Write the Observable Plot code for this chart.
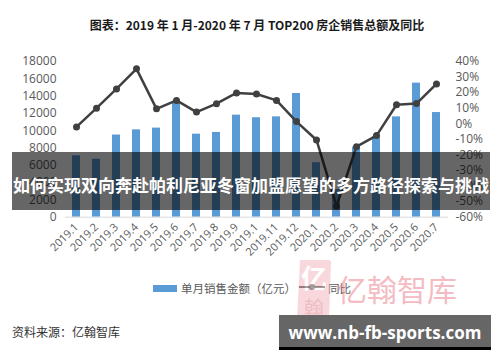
<!DOCTYPE html>
<html>
<head>
<meta charset="utf-8">
<script src="https://cdn.jsdelivr.net/npm/d3@7"></script>
<script src="https://cdn.jsdelivr.net/npm/@observablehq/plot@0.6"></script>
<style>
  html, body { margin: 0; padding: 0; background: #fff; }
  #wrap { position: relative; width: 500px; height: 362px; overflow: hidden; background: #fff; font-family: "Noto Sans CJK SC", "Open Sans", sans-serif; }
  .abs { position: absolute; white-space: nowrap; }
</style>
</head>
<body>
<div id="wrap">
  <div id="chart" class="abs" style="left:0;top:0"></div>
  <div class="abs" style="left:0;width:514px;top:16px;text-align:center;font-size:12px;font-weight:bold;color:#1a1a1a;line-height:18px;">图表：2019 年 1 月-2020 年 7 月 TOP200 房企销售总额及同比</div>
  <div class="abs" style="left:12px;top:152px;width:478px;height:58px;background:rgba(0,0,0,0.6);"></div>
  <div class="abs" style="left:12px;top:173px;width:478px;text-align:center;font-size:17px;font-weight:bold;color:#fff;line-height:24px;">如何实现双向奔赴帕利尼亚冬窗加盟愿望的多方路径探索与挑战</div>
  <div class="abs" style="left:153px;top:285px;width:24px;height:7px;background:#5b9bd5;"></div>
  <div class="abs" style="left:181px;top:280px;font-size:11.5px;color:#595959;line-height:16px;">单月销售金额（亿元）</div>
  <svg class="abs" style="left:298px;top:282px" width="28" height="10"><line x1="1" y1="5" x2="27" y2="5" stroke="#404040" stroke-width="2"/><circle cx="14" cy="5" r="3" fill="#404040"/></svg>
  <div class="abs" style="left:328px;top:280px;font-size:11.5px;color:#595959;line-height:16px;">同比</div>
  <div class="abs" style="left:12px;top:324px;font-size:12px;color:#333;line-height:16px;">资料来源：亿翰智库</div>
  <!-- watermark -->
  <svg class="abs" style="left:294px;top:258px;opacity:0.5" width="40" height="66">
    <path d="M6 4 Q4 2 8 2 L34 2 Q38 2 37 6 L35 60 Q35 64 31 64 L7 64 Q3 64 3 60 Z" fill="#f3b3bb"/>
    <text x="20" y="30" text-anchor="middle" font-size="26" font-weight="bold" fill="#fff" font-family="Noto Sans CJK SC">亿</text>
    <text x="20" y="58" text-anchor="middle" font-size="20" fill="#e07d8a" font-family="Noto Sans CJK SC">翰</text>
  </svg>
  <div class="abs" style="left:337px;top:270px;font-size:30px;color:#ef8f9b;opacity:0.6;line-height:36px;letter-spacing:0px;">亿翰智库</div>
  <div class="abs" style="left:279px;top:315px;width:212px;height:35px;background:#666;border-bottom:3px solid #000;box-sizing:border-box;"></div>
  <div class="abs" style="left:279px;top:322px;width:212px;text-align:center;font-family:'Open Sans',sans-serif;font-size:17px;font-weight:bold;color:#fff;line-height:22px;">www.nb-fb-sports.com</div>
</div>
<script>
const monthKeys = ["2019.01","2019.02","2019.03","2019.04","2019.05","2019.06","2019.07","2019.08","2019.09","2019.10","2019.11","2019.12","2020.01","2020.02","2020.03","2020.04","2020.05","2020.06","2020.07"];
const monthLabels = ["2019.1","2019.2","2019.3","2019.4","2019.5","2019.6","2019.7","2019.8","2019.9","2019.1","2019.11","2019.12","2020.1","2020.2","2020.3","2020.4","2020.5","2020.6","2020.7"];
const sales = [7100, 6700, 9500, 10100, 10300, 13400, 9600, 9800, 11800, 11500, 11600, 14300, 6300, 3200, 8100, 9300, 11600, 15500, 12100];
const yoy = [-2, 10, 22.4, 35.3, 9.6, 15, 7.5, 12.9, 19.8, 19.1, 15, 1.4, -10.4, -52.9, -14.7, -7.6, 12.2, 13, 25.6];
const salesTicks = [0, 2000, 4000, 6000, 8000, 10000, 12000, 14000, 16000, 18000];
const pctTicks = [-60, -50, -40, -30, -20, -10, 0, 10, 20, 30, 40];

const pctToY = p => (p + 60) * 180; // map right axis (-60%..40%) onto 0..18000
const labelOf = new Map(monthKeys.map((k, i) => [k, monthLabels[i]]));
const rows = monthKeys.map((k, i) => ({month: k, sales: sales[i], yoy: yoy[i]}));

const chart = Plot.plot({
  width: 500,
  height: 362,
  marginLeft: 58,
  marginRight: 46,
  marginTop: 61,
  marginBottom: 145.3,
  style: {fontFamily: "'Open Sans', 'Noto Sans CJK SC', sans-serif", fontSize: "12px", color: "#595959", background: "transparent"},
  x: {type: "band", domain: monthKeys, paddingInner: 0.6, paddingOuter: 0.6},
  y: {domain: [0, 18000]},
  marks: [
    Plot.barY(rows, {x: "month", y: "sales", fill: "#5b9bd5"}),
    Plot.ruleY([0], {stroke: "#d9d9d9", strokeWidth: 1, insetLeft: 7, insetRight: 6}),
    Plot.line(rows, {x: "month", y: d => pctToY(d.yoy), stroke: "#404040", strokeWidth: 2.5}),
    Plot.dot(rows, {x: "month", y: d => pctToY(d.yoy), r: 3.5, fill: "#404040", stroke: "none"}),
    Plot.axisY(salesTicks, {anchor: "left", tickSize: 0, tickPadding: 2, tickFormat: d => String(d), label: null}),
    Plot.axisY(pctTicks.map(pctToY), {anchor: "right", tickSize: 0, tickPadding: 1, tickFormat: d => Math.round(d / 180 - 60) + "%", label: null, textAnchor: "start"}),
    Plot.axisX({tickSize: 0, tickPadding: 8, tickRotate: -45, tickFormat: k => labelOf.get(k), fontSize: 11, label: null})
  ]
});
document.getElementById("chart").appendChild(chart);
</script>
</body>
</html>
